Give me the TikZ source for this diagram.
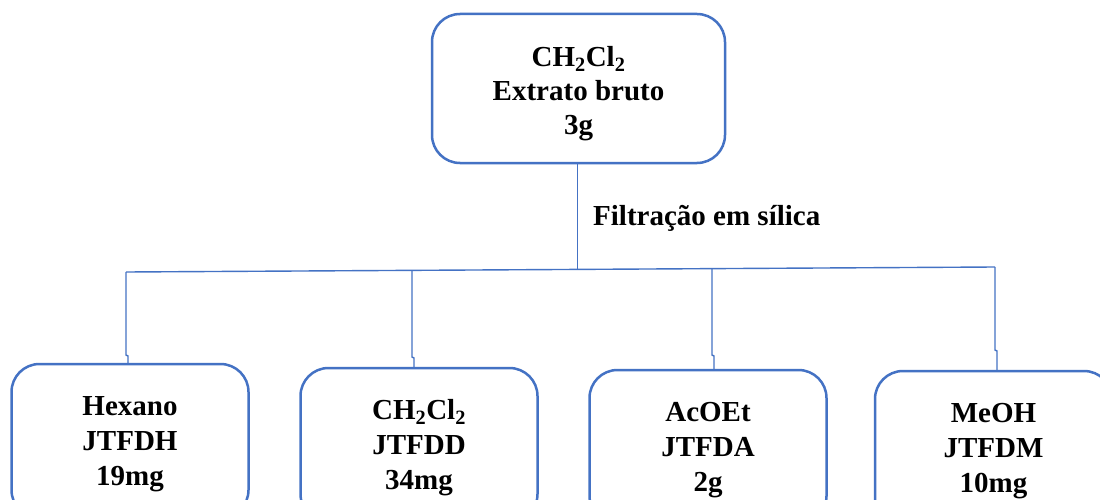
\documentclass[tikz,border=0pt]{standalone}
\usepackage{fontspec}
\setmainfont{Liberation Serif}
\definecolor{boxblue}{HTML}{4472C4}
\tikzset{
  stagebox/.style={draw=boxblue, line width=2.5pt, rounded corners=28pt, fill=white,
    minimum width=237pt, minimum height=154pt, inner sep=0pt, align=center,
    font=\fontsize{29}{35}\selectfont\bfseries},
  topbox/.style={stagebox, minimum width=293pt, minimum height=149pt,
    font=\fontsize{29}{34}\selectfont\bfseries},
  link/.style={draw=boxblue, line width=1.4pt},
  lbl/.style={font=\fontsize{29}{34}\selectfont\bfseries, inner sep=0pt}
}
\newcommand{\dcm}{CH\textsubscript{2}Cl\textsubscript{2}}
\newcommand{\tstrut}[1]{\rule{0pt}{#1}}
\begin{document}
\begin{tikzpicture}[x=1pt,y=-1pt]
\useasboundingbox (0,0) rectangle (1100,500);
\clip (0,0) rectangle (1100,500);
\fill[white] (0,0) rectangle (1100,500);
% top box
\node[topbox] (top) at (578.5,88.5) {\tstrut{31pt}\dcm\\Extrato bruto\\3g};
% bottom boxes
\node[stagebox] (b1) at (130,441) {\tstrut{25pt}Hexano\\JTFDH\\19mg};
\node[stagebox] (b2) at (419,445) {\tstrut{25pt}\dcm\\JTFDD\\34mg};
\node[stagebox] (b3) at (708,447) {\tstrut{25pt}AcOEt\\JTFDA\\2g};
\node[stagebox] (b4) at (993.5,448) {\tstrut{25pt}MeOH\\JTFDM\\10mg};
% label
\node[lbl, anchor=base west] (filt) at (593,225) {Filtração em sílica};
% connectors
\coordinate (L) at (126,272);
\coordinate (R) at (995,267);
\coordinate (J) at (577.5,269.4);
\coordinate (K2) at (412,271);
\coordinate (K3) at (712,269);
\coordinate (j1) at (128,356);
\coordinate (j2) at (414,358);
\coordinate (j3) at (714,356);
\coordinate (j4) at (997,351);
\draw[link] (L) -- (R);
\draw[link] (top.south -| J) -- (J);
\draw[link] (L) -- (126,355) -- (j1) -- (j1 |- b1.north);
\draw[link] (K2) -- (412,357) -- (j2) -- (j2 |- b2.north);
\draw[link] (K3) -- (712,355) -- (j3) -- (j3 |- b3.north);
\draw[link] (R) -- (995,350) -- (j4) -- (j4 |- b4.north);
\end{tikzpicture}
\end{document}
